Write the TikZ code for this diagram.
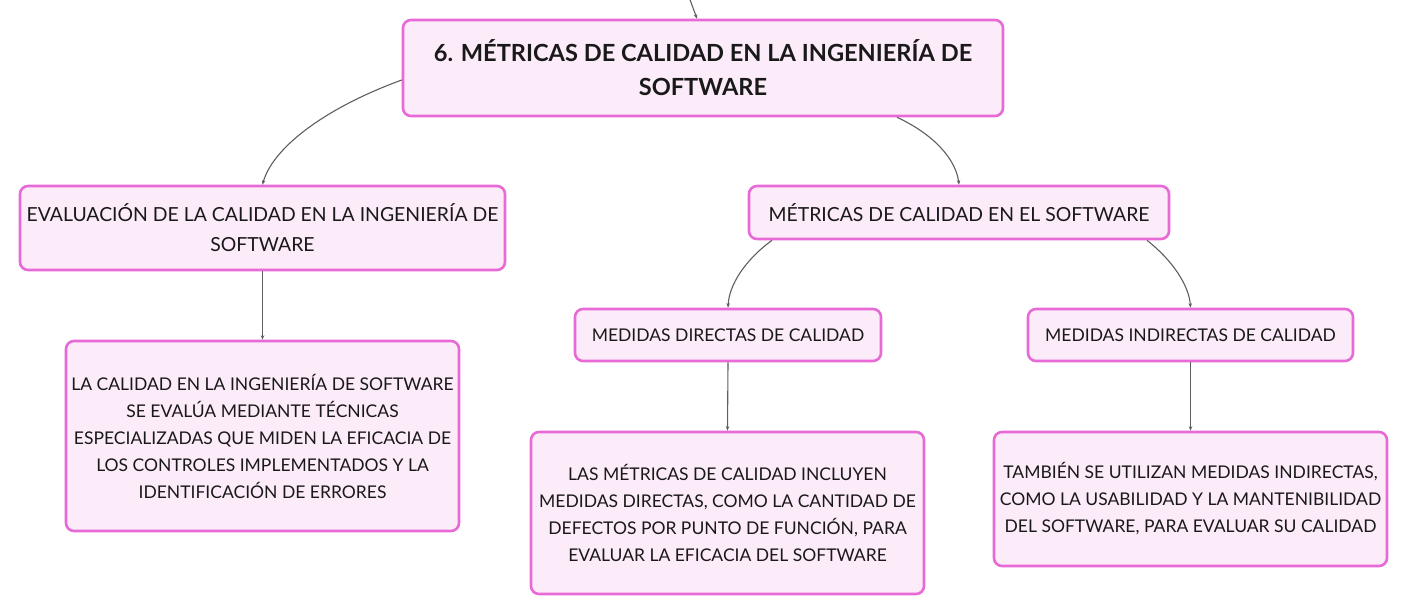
\documentclass[tikz,border=0pt]{standalone}
\usepackage{fontspec}
\setmainfont{Lato}
\usetikzlibrary{arrows.meta}
\definecolor{bord}{HTML}{E86AD6}
\definecolor{fillp}{HTML}{FCEBF9}
\definecolor{edgec}{HTML}{5E5E5E}
\tikzset{
  box/.style={draw=bord, fill=fillp, line width=2.6pt, rounded corners=8pt, align=center, inner sep=0pt, text=black!90},
  conn/.style={draw=edgec, line width=1.1pt, -{Stealth[length=4.5pt,width=3.5pt]}},
  nfont/.style={font=\fontsize{17.5}{27}\selectfont},
  mfont/.style={font=\fontsize{19.4}{30}\selectfont},
}
\begin{document}
\begin{tikzpicture}[x=1pt,y=-1pt]
\useasboundingbox (0,0) rectangle (1408,615);
\node[box, minimum width=600, minimum height=96, font=\fontsize{23.6}{34}\selectfont\bfseries] (top) at (703,68) {6. MÉTRICAS DE CALIDAD EN LA INGENIERÍA DE\\SOFTWARE};
\node[box, mfont, minimum width=485, minimum height=84] (eval) at (262.5,228) {EVALUACIÓN DE LA CALIDAD EN LA INGENIERÍA DE\\SOFTWARE};
\node[box, mfont, minimum width=420, minimum height=53] (met) at (959,212.5) {MÉTRICAS DE CALIDAD EN EL SOFTWARE};
\node[box, nfont, minimum width=393, minimum height=190] (evalc) at (262.5,436) {LA CALIDAD EN LA INGENIERÍA DE SOFTWARE\\SE EVALÚA MEDIANTE TÉCNICAS\\ESPECIALIZADAS QUE MIDEN LA EFICACIA DE\\LOS CONTROLES IMPLEMENTADOS Y LA\\IDENTIFICACIÓN DE ERRORES};
\node[box, nfont, minimum width=306, minimum height=52] (dir) at (728,335) {MEDIDAS DIRECTAS DE CALIDAD};
\node[box, nfont, minimum width=325, minimum height=52] (ind) at (1190.5,335) {MEDIDAS INDIRECTAS DE CALIDAD};
\node[box, nfont, minimum width=393, minimum height=162] (dirc) at (727.5,513) {LAS MÉTRICAS DE CALIDAD INCLUYEN\\MEDIDAS DIRECTAS, COMO LA CANTIDAD DE\\DEFECTOS POR PUNTO DE FUNCIÓN, PARA\\EVALUAR LA EFICACIA DEL SOFTWARE};
\node[box, nfont, minimum width=393, minimum height=134] (indc) at (1190.5,499) {TAMBIÉN SE UTILIZAN MEDIDAS INDIRECTAS,\\COMO LA USABILIDAD Y LA MANTENIBILIDAD\\DEL SOFTWARE, PARA EVALUAR SU CALIDAD};
\coordinate (in0) at (689,-3);
\draw[conn] (in0) -- ([xshift=-6]top.north);
\draw[conn] ([yshift=-12]top.west) .. controls (320,110) and (272,150) .. (eval.north);
\draw[conn] ([xshift=194]top.south) .. controls (935,135) and (956,160) .. (met.north);
\draw[conn] ([xshift=-187]met.south) .. controls (745,260) and (729,285) .. (dir.north);
\draw[conn] ([xshift=188]met.south) .. controls (1172,260) and (1189,285) .. (ind.north);
\draw[conn] (eval.south) -- (evalc.north);
\draw[conn] (dir.south) -- (dirc.north);
\draw[conn] (ind.south) -- (indc.north);
\end{tikzpicture}
\end{document}
